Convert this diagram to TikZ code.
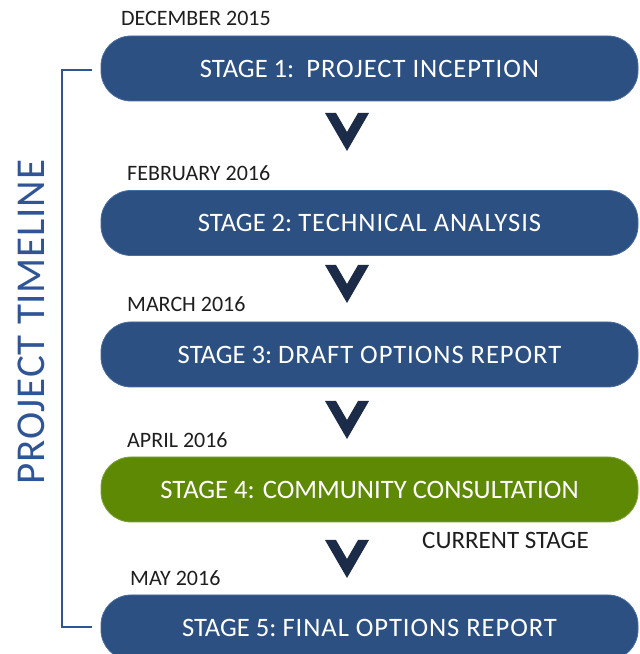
\documentclass[tikz,border=0pt]{standalone}
\usepackage{fontspec}
\setmainfont{Carlito}
\newfontfamily\lightf[LetterSpace=3.5]{Carlito}
\newfontfamily\titlef[LetterSpace=2]{Carlito}
\definecolor{boxblue}{HTML}{2D5083}
\definecolor{boxedge}{HTML}{4A6C9E}
\definecolor{boxgreen}{HTML}{5E8905}
\definecolor{greenedge}{HTML}{7FA33A}
\definecolor{chev}{HTML}{1C2B48}
\definecolor{titleblue}{HTML}{2F5597}
\definecolor{labelc}{HTML}{1E1E1E}
\tikzset{
  stagebox/.style={rounded corners=30pt, minimum width=537pt, minimum height=65pt,
    fill=boxblue, draw=boxedge, line width=0.8pt, text=white, font=\fontsize{26.6}{30}\selectfont, inner sep=0pt},
  greenbox/.style={stagebox, fill=boxgreen, draw=greenedge},
  datelabel/.style={anchor=west, text=labelc, font=\fontsize{22}{24}\selectfont, inner sep=0pt},
  curlabel/.style={anchor=west, text=labelc, font=\fontsize{25}{27}\selectfont, inner sep=0pt},
  bracket/.style={draw=titleblue, line width=2.2pt},
  chevshape/.style={fill=chev, draw=none},
}
\newcommand{\stxt}[2]{\raisebox{-2pt}{#1\ {\lightf #2}}}
\usetikzlibrary{calc}
\newcommand{\chevronat}[1]{%
  \fill[chevshape] ($(#1)+(-22,0)$) -- ($(#1)+(-11,0)$) -- ($(#1)+(0,-19)$) -- ($(#1)+(11,0)$) -- ($(#1)+(22,0)$) -- ($(#1)+(0,-38)$) -- cycle;}
\begin{document}
\begin{tikzpicture}[x=1pt,y=1pt]
\useasboundingbox (0,0) rectangle (640,654);
\clip (0,0) rectangle (640,654);
% boxes
\node[stagebox] (s1) at (369.5,585.5) {\stxt{STAGE 1:\ }{PROJECT INCEPTION}};
\node[stagebox] (s2) at (369.5,431) {\stxt{STAGE 2:}{TECHNICAL ANALYSIS}};
\node[stagebox] (s3) at (369.5,299.5) {\stxt{STAGE 3:}{DRAFT OPTIONS REPORT}};
\node[greenbox] (s4) at (369.5,164.5) {\raisebox{-2pt}{STAGE 4: COMMUNITY CONSULTATION}};
\node[stagebox] (s5) at (369.5,26.5) {\stxt{STAGE 5:}{FINAL OPTIONS REPORT}};
% dates
\node[datelabel] (d1) at (121,636) {DECEMBER 2015};
\node[datelabel] (d2) at (127,481) {FEBRUARY 2016};
\node[datelabel] (d3) at (127,350) {MARCH 2016};
\node[datelabel] (d4) at (127,214) {APRIL 2016};
\node[datelabel] (d5) at (130,76) {MAY 2016};
\node[curlabel] (cur) at (422,114) {CURRENT STAGE};
% chevrons
\coordinate (c1) at (347,541);
\coordinate (c2) at (347,389);
\coordinate (c3) at (347,253);
\coordinate (c4) at (347,114);
\chevronat{c1}\chevronat{c2}\chevronat{c3}\chevronat{c4}
% bracket
\coordinate (bt) at (92,584);
\coordinate (bb) at (92,27);
\draw[bracket] (bt) -- (62,584) -- (62,27) -- (bb);
% title
\node[rotate=90, text=titleblue, font=\fontsize{41}{44}\selectfont\titlef, inner sep=0pt] (title) at (31,332) {PROJECT TIMELINE};
\end{tikzpicture}
\end{document}
